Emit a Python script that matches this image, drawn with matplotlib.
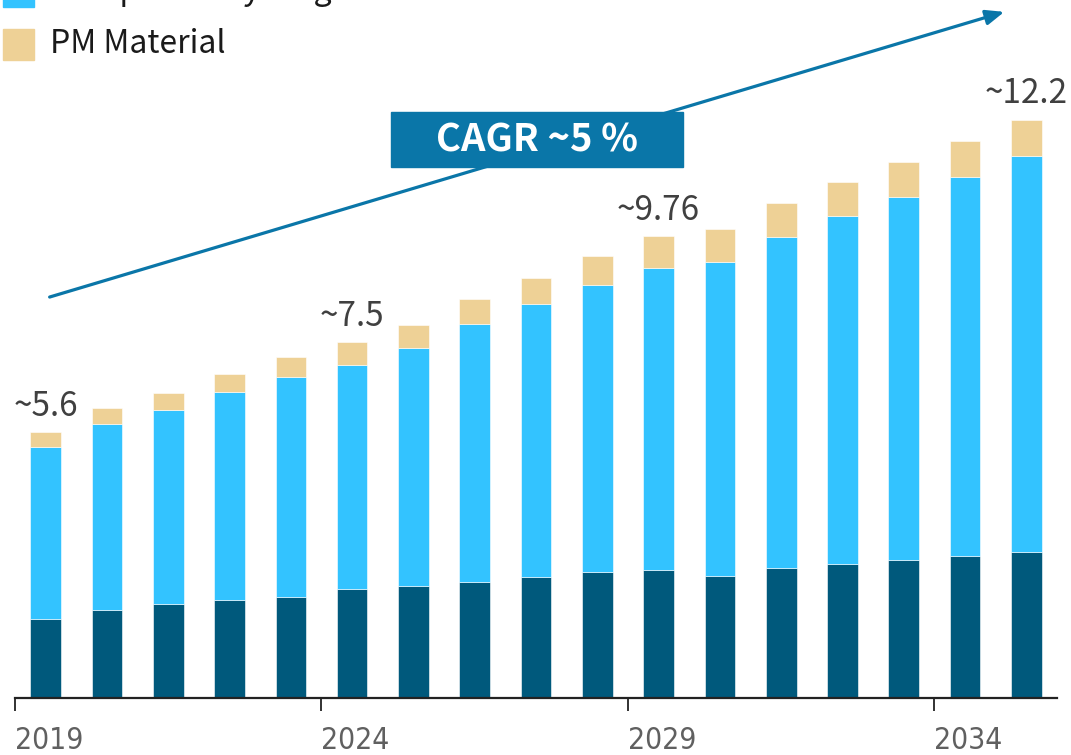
import matplotlib
matplotlib.use("Agg")
import matplotlib.pyplot as plt
from matplotlib.patches import Rectangle

# data
years = list(range(2019, 2036))
pm_base = [1.66, 1.85, 1.98, 2.07, 2.13, 2.30, 2.36, 2.44, 2.55, 2.66, 2.70, 2.57, 2.74, 2.82, 2.91, 2.99, 3.08]
complex_recycling = [3.62, 3.92, 4.09, 4.38, 4.64, 4.72, 5.02, 5.44, 5.75, 6.05, 6.36, 6.62, 6.98, 7.33, 7.65, 7.99, 8.35]
pm_material = [0.32, 0.34, 0.36, 0.38, 0.42, 0.48, 0.48, 0.53, 0.55, 0.61, 0.67, 0.70, 0.72, 0.72, 0.74, 0.76, 0.76]
labeled_years = [2019, 2024, 2029, 2035]
labeled_text = ["~5.6", "~7.5", "~9.76", "~12.2"]
tick_years = [2019, 2024, 2029, 2034]
legend_labels = ["Complex Recycling", "PM Material"]
cagr_text = "CAGR ~5 %"

c_dark = "#00597c"
c_blue = "#33c3ff"
c_tan = "#eed196"
c_arrow = "#0a76a8"

W, H = 1071, 755
fig = plt.figure(figsize=(W / 100, H / 100), dpi=100)
ax = fig.add_axes([15 / W, 57 / H, (1057 - 15) / W, 698 / H])

x = list(range(len(years)))
mid = [a + b for a, b in zip(pm_base, complex_recycling)]
tot = [m + c for m, c in zip(mid, pm_material)]

ax.bar(x, pm_base, width=0.5, color=c_dark, edgecolor="white", linewidth=0.4)
ax.bar(x, complex_recycling, width=0.5, bottom=pm_base, color=c_blue, edgecolor="white", linewidth=0.4)
ax.bar(x, pm_material, width=0.5, bottom=mid, color=c_tan, edgecolor="white", linewidth=0.4)

ax.set_xlim(-0.5, 16.5)
ax.set_ylim(0, 698 / 47.45)

for yr, txt in zip(labeled_years, labeled_text):
    i = years.index(yr)
    ax.annotate(txt, (i, tot[i]), xytext=(0, 6), textcoords="offset points",
                ha="center", va="bottom", fontsize=24, color="#404040",
                family=["Noto Sans CJK JP", "DejaVu Sans"])

for s in ["top", "right", "left"]:
    ax.spines[s].set_visible(False)
ax.spines["bottom"].set_linewidth(1.6)
ax.spines["bottom"].set_color("#222222")
ax.set_yticks([])
ax.set_xticks([years.index(t) - 0.5 for t in tick_years])
ax.set_xticklabels([str(t) for t in tick_years], ha="left", fontsize=21.5,
                   color="#606060", family="DejaVu Sans", fontstretch="condensed")
ax.tick_params(axis="x", length=9, width=1.3, color="#222222", pad=11)

# trend arrow
ax.annotate("", xy=(15.64, 14.46), xytext=(0.065, 8.45),
            arrowprops=dict(arrowstyle="-|>,head_length=1.1,head_width=0.45",
                            color=c_arrow, lw=2.3, shrinkA=0, shrinkB=0),
            annotation_clip=False)

# CAGR box
fig.patches.append(Rectangle((391 / W, 1 - 167 / H), (683 - 391) / W, (167 - 112) / H,
                             transform=fig.transFigure, color=c_arrow, zorder=5))
fig.text(537 / W, 1 - 139.5 / H, cagr_text, ha="center", va="center", fontsize=27.5,
         fontweight="bold", color="white", family=["Noto Sans CJK JP", "DejaVu Sans"], zorder=6)

# legend (top entry partly off canvas)
for k, (lab, col) in enumerate(zip(legend_labels, [c_blue, c_tan])):
    top = -24 + 53 * k
    fig.patches.append(Rectangle((3 / W, 1 - (top + 31) / H), 31 / W, 31 / H,
                                 transform=fig.transFigure, color=col))
    fig.text(50 / W, 1 - (top + 15) / H, lab, ha="left", va="center", fontsize=23,
             color="#1a1a1a", family=["Noto Sans CJK JP", "DejaVu Sans"])

fig.savefig("out.png", dpi=100)
